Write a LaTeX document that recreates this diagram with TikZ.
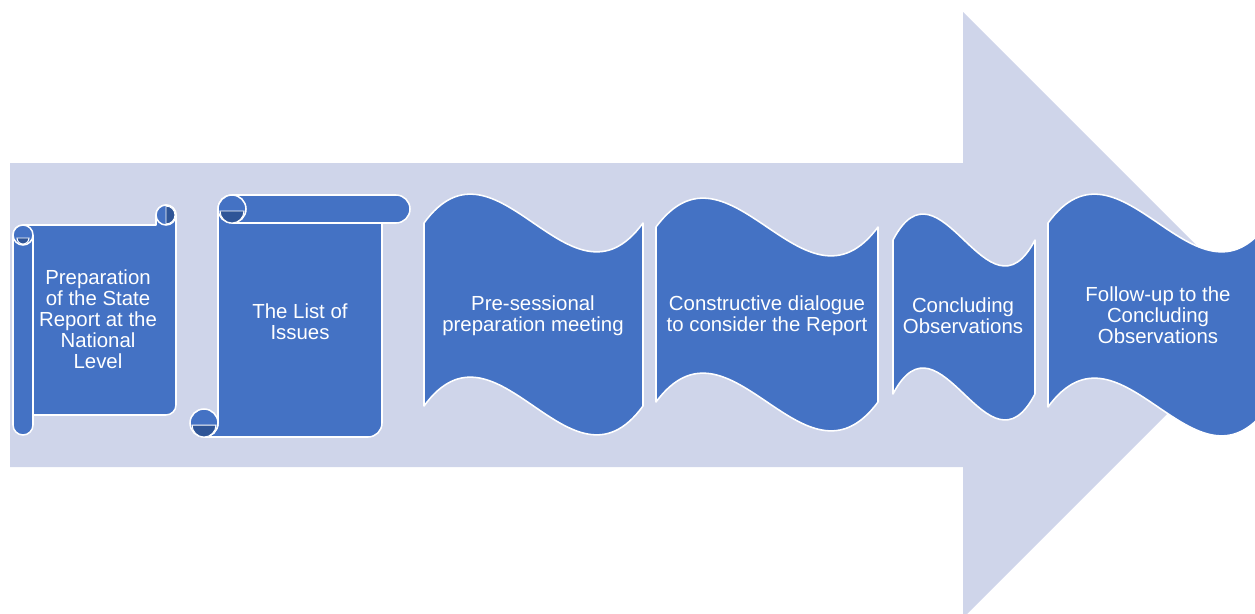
\documentclass[tikz,border=0pt]{standalone}
\usepackage{fontspec}
\setmainfont{Liberation Sans}
\definecolor{arrowbg}{HTML}{CFD5EA}
\definecolor{stageblue}{HTML}{4472C4}
\definecolor{curldark}{HTML}{2F5597}

\begin{document}
\begin{tikzpicture}[x=0.025cm, y=-0.025cm,
  page/.style={fill=stageblue, draw=white, line width=1.1pt, line join=round},
  curl/.style={fill=curldark, draw=white, line width=0.7pt},
  stage/.style={text=white, align=center, inner sep=0pt, font=\fontsize{14.5}{15}\selectfont}]
\useasboundingbox (0,0) rectangle (1255,613);
\clip (0,0) rectangle (1255,613);
\fill[arrowbg] (10,163) -- (963,163) -- (963,12) -- (1266,315) -- (963,618) -- (963,467) -- (10,467) -- cycle;

% vertical scroll
\draw[page] (13,235) arc[start angle=180, end angle=270, radius=10] -- (156,225) -- (156,215)
  arc[start angle=180, end angle=360, radius=10] -- (176,405)
  arc[start angle=0, end angle=90, radius=10] -- (33,415) -- (33,425)
  arc[start angle=0, end angle=180, radius=10] -- cycle;
\draw[white, line width=1.1pt] (33,235) -- (33,415);
\filldraw[page] (23,235) circle[radius=10];
\filldraw[curl] (17,238) -- (29,238) arc[start angle=0, end angle=180, radius=6] -- cycle;
\filldraw[page] (166,215) circle[radius=10];
\filldraw[curl] (166,206) -- (166,224) arc[start angle=90, end angle=-90, radius=9] -- cycle;
\node[stage] (prep) at (98,319) {Preparation\\of the State\\Report at the\\National\\Level};

% horizontal scroll
\draw[page] (204,437) -- (368,437) arc[start angle=90, end angle=0, radius=14] -- (382,223) -- (396,223)
  arc[start angle=90, end angle=-90, radius=14] -- (232,195)
  arc[start angle=-90, end angle=-180, radius=14] -- (218,423)
  arc[start angle=0, end angle=90, radius=14] -- cycle;
\draw[white, line width=1.1pt] (232,223) -- (396,223);
\filldraw[page] (232,209) circle[radius=14];
\filldraw[curl] (220,211) -- (244,211) arc[start angle=0, end angle=180, radius=12] -- cycle;
\filldraw[page] (204,423) circle[radius=14];
\filldraw[curl] (192,425) -- (216,425) arc[start angle=0, end angle=180, radius=12] -- cycle;
\node[stage] (issues) at (300,322) {The List of\\Issues};

% waves
\draw[page] (424,223) .. controls (497,123) and (570,323) .. (643,223) -- (643,406)
  .. controls (570,506) and (497,306) .. (424,406) -- cycle;
\node[stage] (presess) at (533,316) {Pre-sessional\\preparation meeting};

\draw[page] (656,227) .. controls (730,127) and (804,327) .. (878,227) -- (878,402)
  .. controls (804,502) and (730,302) .. (656,402) -- cycle;
\node[stage] (dialogue) at (767,316) {Constructive dialogue\\to consider the Report};

\draw[page] (893,240) .. controls (940,150) and (988,330) .. (1035,240) -- (1035,394)
  .. controls (988,484) and (940,304) .. (893,394) -- cycle;
\node[stage] (concl) at (963,316) {Concluding\\Observations};

\draw[page] (1048,223) .. controls (1121,123) and (1195,323) .. (1268,223) -- (1268,407)
  .. controls (1195,507) and (1121,307) .. (1048,407) -- cycle;
\node[stage] (followup) at (1158,315) {Follow-up to the\\Concluding\\Observations};
\end{tikzpicture}
\end{document}
